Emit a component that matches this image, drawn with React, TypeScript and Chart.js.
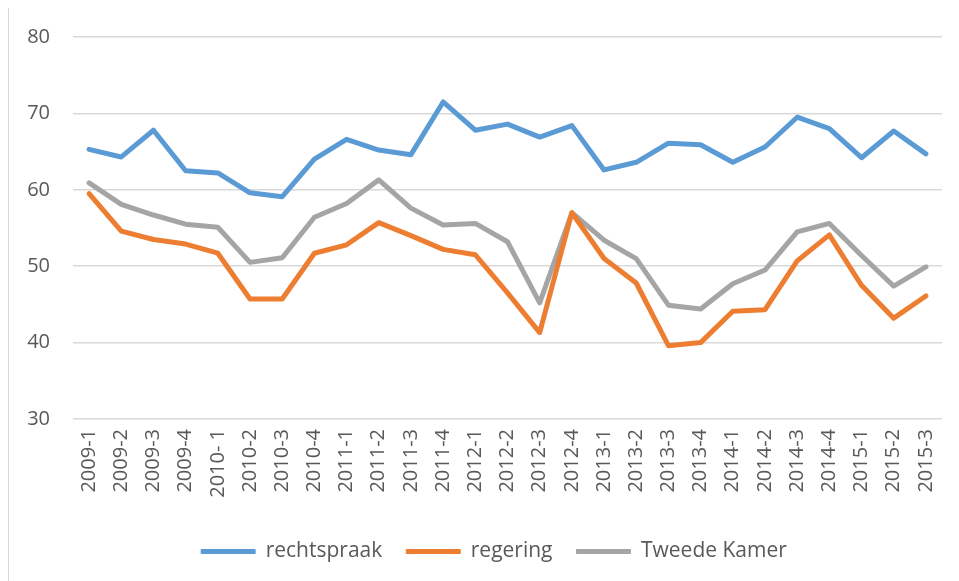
import React, { useEffect, useRef } from "react";
import { Chart, registerables } from "chart.js";

Chart.register(...registerables);

const categories = [
  "2009-1", "2009-2", "2009-3", "2009-4", "2010- 1", "2010-2", "2010-3", "2010-4",
  "2011-1", "2011-2", "2011-3", "2011-4", "2012-1", "2012-2", "2012-3", "2012-4",
  "2013-1", "2013-2", "2013-3", "2013-4", "2014-1", "2014-2", "2014-3", "2014-4",
  "2015-1", "2015-2", "2015-3",
];

const rechtspraak = [
  65.3, 64.3, 67.8, 62.5, 62.2, 59.6, 59.1, 64.0, 66.6, 65.2, 64.6, 71.5, 67.8, 68.6,
  66.9, 68.4, 62.6, 63.6, 66.1, 65.9, 63.6, 65.6, 69.5, 68.0, 64.2, 67.7, 64.7,
];

const regering = [
  59.5, 54.6, 53.5, 52.9, 51.7, 45.7, 45.7, 51.7, 52.8, 55.7, 54.0, 52.2, 51.5, 46.5,
  41.3, 57.0, 51.0, 47.8, 39.6, 40.0, 44.1, 44.3, 50.7, 54.1, 47.5, 43.2, 46.1,
];

const tweedeKamer = [
  60.9, 58.1, 56.7, 55.5, 55.1, 50.5, 51.1, 56.4, 58.2, 61.3, 57.6, 55.4, 55.6, 53.2,
  45.2, 57.0, 53.4, 51.0, 44.9, 44.4, 47.7, 49.5, 54.5, 55.6, 51.4, 47.4, 49.9,
];

const seriesNames = ["rechtspraak", "regering", "Tweede Kamer"];
const seriesColors = ["#5B9BD5", "#ED7D31", "#A5A5A5"];

const FONT = "'Open Sans', 'Liberation Sans', sans-serif";
const TEXT = "#595959";

export default function App() {
  const ref = useRef<HTMLCanvasElement | null>(null);

  useEffect(() => {
    if (!ref.current) return;
    const values = [rechtspraak, regering, tweedeKamer];
    const chart = new Chart(ref.current, {
      type: "line",
      data: {
        labels: categories,
        datasets: seriesNames.map((name, i) => ({
          label: name,
          data: values[i],
          borderColor: seriesColors[i],
          backgroundColor: seriesColors[i],
          borderWidth: 5,
          pointRadius: 0,
          pointHoverRadius: 0,
          tension: 0,
          borderCapStyle: "round" as const,
          borderJoinStyle: "round" as const,
          fill: false,
          yAxisID: "y",
        })),
      },
      options: {
        animation: false,
        responsive: false,
        devicePixelRatio: 1,
        layout: { padding: { top: 29, left: 0, right: 0, bottom: 6 } },
        plugins: {
          tooltip: { enabled: false },
          legend: {
            position: "bottom",
            labels: {
              font: { family: FONT, size: 21 },
              color: TEXT,
              boxWidth: 54,
              boxHeight: 4,
              padding: 24,
              generateLabels: (c: any) =>
                c.data.datasets.map((d: any, i: number) => ({
                  text: d.label,
                  fillStyle: d.borderColor,
                  strokeStyle: d.borderColor,
                  lineWidth: 1,
                  fontColor: TEXT,
                  datasetIndex: i,
                  hidden: false,
                })),
            },
          },
        },
        scales: {
          x: {
            type: "category",
            offset: true,
            grid: { display: false, drawTicks: false },
            border: { display: false },
            ticks: {
              font: { family: FONT, size: 20 },
              color: TEXT,
              maxRotation: 90,
              minRotation: 90,
              autoSkip: false,
              padding: 10,
            },
            afterFit: (s: any) => {
              s.height = 98;
              s.paddingLeft = 0;
              s.paddingRight = 0;
              s.paddingTop = 0;
              s.paddingBottom = 0;
            },
          },
          y: {
            position: "left",
            min: 30,
            max: 80,
            grid: { color: "#D9D9D9", lineWidth: 1.5, drawTicks: false },
            border: { display: false },
            ticks: {
              stepSize: 10,
              font: { family: FONT, size: 20 },
              color: TEXT,
              padding: 23,
            },
            afterFit: (s: any) => {
              s.width = 64;
              s.paddingTop = 0;
              s.paddingBottom = 0;
            },
          },
          yr: {
            position: "right",
            display: true,
            min: 30,
            max: 80,
            grid: { display: false, drawTicks: false },
            border: { display: false },
            ticks: { display: false },
            afterFit: (s: any) => {
              s.width = 37;
              s.paddingTop = 0;
              s.paddingBottom = 0;
            },
          },
        },
      },
    });
    return () => chart.destroy();
  }, []);

  return (
    <div
      style={{
        border: "1px solid #D9D9D9",
        width: 990,
        height: 580,
        marginTop: -1,
        boxSizing: "border-box",
        background: "#fff",
      }}
    >
      <canvas ref={ref} width={970} height={570} style={{ display: "block" }} />
    </div>
  );
}
